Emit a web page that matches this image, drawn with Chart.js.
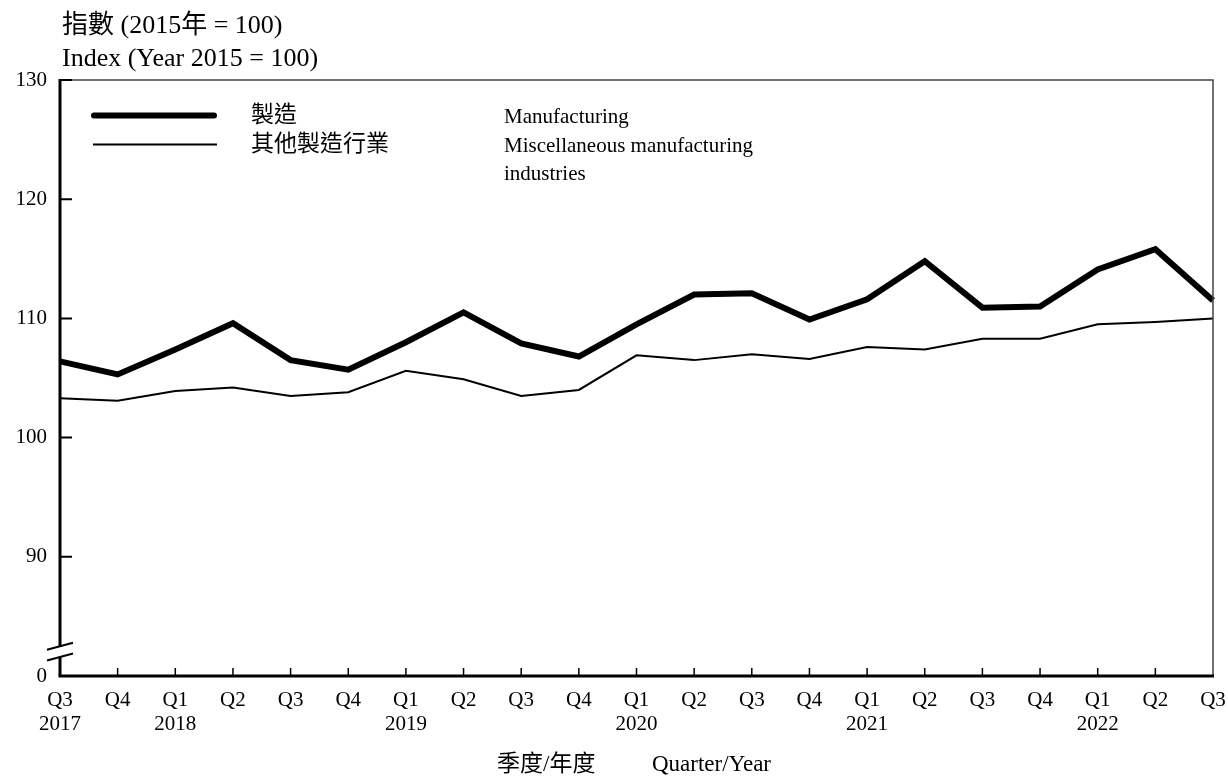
<!DOCTYPE html>
<html>
<head>
<meta charset="utf-8">
<script src="https://cdn.jsdelivr.net/npm/chart.js@4.4.1/dist/chart.umd.min.js"></script>
<style>
  html, body { margin: 0; padding: 0; background: #fff; }
  canvas { display: block; }
</style>
</head>
<body>
<canvas id="myChart" width="1228" height="776"></canvas>
<script>
let quarters = ["Q3", "Q4", "Q1", "Q2", "Q3", "Q4", "Q1", "Q2", "Q3", "Q4", "Q1", "Q2", "Q3", "Q4", "Q1", "Q2", "Q3", "Q4", "Q1", "Q2", "Q3"];
let years = ["2017", "", "2018", "", "", "", "2019", "", "", "", "2020", "", "", "", "2021", "", "", "", "2022", "", ""];

let manufacturing = [106.4, 105.3, 107.4, 109.6, 106.5, 105.7, 108.0, 110.5, 107.9, 106.8, 109.5, 112.0, 112.1, 109.9, 111.6, 114.8, 110.9, 111.0, 114.1, 115.8, 111.5];
let misc_manufacturing = [103.3, 103.1, 103.9, 104.2, 103.5, 103.8, 105.6, 104.9, 103.5, 104.0, 106.9, 106.5, 107.0, 106.6, 107.6, 107.4, 108.3, 108.3, 109.5, 109.7, 110.0];

let y_ticks = [80, 90, 100, 110, 120, 130];

let serif = '"Liberation Serif", "Noto Sans CJK TC"';

// x labels: quarter on first line, year on second where there is one
let labels = [];
for (let i = 0; i < quarters.length; i++) {
  if (years[i] !== "") {
    labels.push([quarters[i], years[i]]);
  } else {
    labels.push(quarters[i]);
  }
}

// frame, inner ticks, axis break, legend and titles
const framePlugin = {
  id: 'frame',
  afterDatasetsDraw(chart) {
    const ctx = chart.ctx;
    const area = chart.chartArea;
    const x = chart.scales.x;
    const y = chart.scales.y;
    ctx.save();

    // top and right border
    ctx.strokeStyle = '#444';
    ctx.lineWidth = 1.5;
    ctx.beginPath();
    ctx.moveTo(area.left, area.top);
    ctx.lineTo(area.right, area.top);
    ctx.lineTo(area.right, area.bottom);
    ctx.stroke();

    // left axis with a gap for the break
    let gapTop = y.getPixelForValue(82.5);
    let gapBottom = y.getPixelForValue(81.6);
    ctx.strokeStyle = '#000';
    ctx.lineWidth = 3;
    ctx.beginPath();
    ctx.moveTo(area.left, area.top - 1);
    ctx.lineTo(area.left, gapTop);
    ctx.moveTo(area.left, gapBottom);
    ctx.lineTo(area.left, area.bottom);
    ctx.stroke();

    // bottom axis
    ctx.beginPath();
    ctx.moveTo(area.left - 1.5, area.bottom);
    ctx.lineTo(area.right + 1, area.bottom);
    ctx.stroke();

    // break slashes
    ctx.lineWidth = 2;
    ctx.beginPath();
    ctx.moveTo(area.left - 13, gapTop + 3.5);
    ctx.lineTo(area.left + 13, gapTop - 3.5);
    ctx.moveTo(area.left - 13, gapBottom + 3.5);
    ctx.lineTo(area.left + 13, gapBottom - 3.5);
    ctx.stroke();

    // y ticks pointing in
    ctx.lineWidth = 2;
    ctx.beginPath();
    for (let i = 1; i < y_ticks.length; i++) {
      let py = y.getPixelForValue(y_ticks[i]);
      ctx.moveTo(area.left, py);
      ctx.lineTo(area.left + 12, py);
    }
    ctx.stroke();

    // x ticks pointing up
    ctx.lineWidth = 1.5;
    ctx.beginPath();
    for (let i = 1; i < labels.length - 1; i++) {
      let px = x.getPixelForValue(i);
      ctx.moveTo(px, area.bottom);
      ctx.lineTo(px, area.bottom - 8);
    }
    ctx.stroke();

    // legend
    ctx.lineCap = 'round';
    ctx.lineWidth = 6;
    ctx.beginPath();
    ctx.moveTo(94, 115.5);
    ctx.lineTo(214, 115.5);
    ctx.stroke();
    ctx.lineCap = 'butt';
    ctx.lineWidth = 2;
    ctx.beginPath();
    ctx.moveTo(93, 144.5);
    ctx.lineTo(217, 144.5);
    ctx.stroke();

    ctx.fillStyle = '#000';
    ctx.textAlign = 'left';
    ctx.textBaseline = 'middle';
    ctx.font = '23px "Noto Sans CJK TC"';
    ctx.fillText('製造', 251, 113);
    ctx.fillText('其他製造行業', 251, 142);

    ctx.textBaseline = 'alphabetic';
    ctx.font = '21px ' + serif;
    ctx.fillText('Manufacturing', 504, 123);
    ctx.fillText('Miscellaneous manufacturing', 504, 152);
    ctx.fillText('industries', 504, 180);

    // titles
    ctx.font = '26px ' + serif;
    ctx.fillText('指數 (2015年 = 100)', 62, 33);
    ctx.fillText('Index (Year 2015 = 100)', 62, 66);

    ctx.font = '23px ' + serif;
    ctx.fillText('季度/年度', 497, 771);
    ctx.fillText('Quarter/Year', 652, 771);

    ctx.restore();
  }
};

const data = {
  labels: labels,
  datasets: [
    {
      label: '製造 Manufacturing',
      data: manufacturing,
      borderColor: '#000',
      backgroundColor: '#000',
      borderWidth: 6,
      pointRadius: 0,
      tension: 0,
      borderJoinStyle: 'miter',
      borderCapStyle: 'butt'
    },
    {
      label: '其他製造行業 Miscellaneous manufacturing industries',
      data: misc_manufacturing,
      borderColor: '#000',
      backgroundColor: '#000',
      borderWidth: 2,
      pointRadius: 0,
      tension: 0
    }
  ]
};

const config = {
  type: 'line',
  data: data,
  options: {
    responsive: false,
    animation: false,
    layout: {
      padding: { top: 80, right: 15, left: 0, bottom: 0 }
    },
    plugins: {
      legend: { display: false },
      tooltip: { enabled: false }
    },
    scales: {
      x: {
        offset: false,
        grid: { display: false, drawTicks: false },
        border: { display: false },
        ticks: {
          color: '#000',
          padding: 12,
          maxRotation: 0,
          autoSkip: false,
          font: { family: serif, size: 21, lineHeight: 1.15 }
        },
        afterFit: function (scale) {
          scale.height = 100;
          scale.paddingLeft = 0;
          scale.paddingRight = 0;
        }
      },
      y: {
        min: 80,
        max: 130,
        grid: { display: false, drawTicks: false },
        border: { display: false },
        afterBuildTicks: function (scale) {
          scale.ticks = y_ticks.map(v => ({ value: v }));
        },
        ticks: {
          color: '#000',
          padding: 13,
          font: { family: serif, size: 21 },
          callback: function (value) {
            if (value === 80) {
              return '0';
            }
            return value;
          }
        },
        afterFit: function (scale) {
          scale.width = 60;
        }
      }
    }
  },
  plugins: [framePlugin]
};

let myChart = new Chart(
  document.getElementById('myChart'),
  config
);
</script>
</body>
</html>
